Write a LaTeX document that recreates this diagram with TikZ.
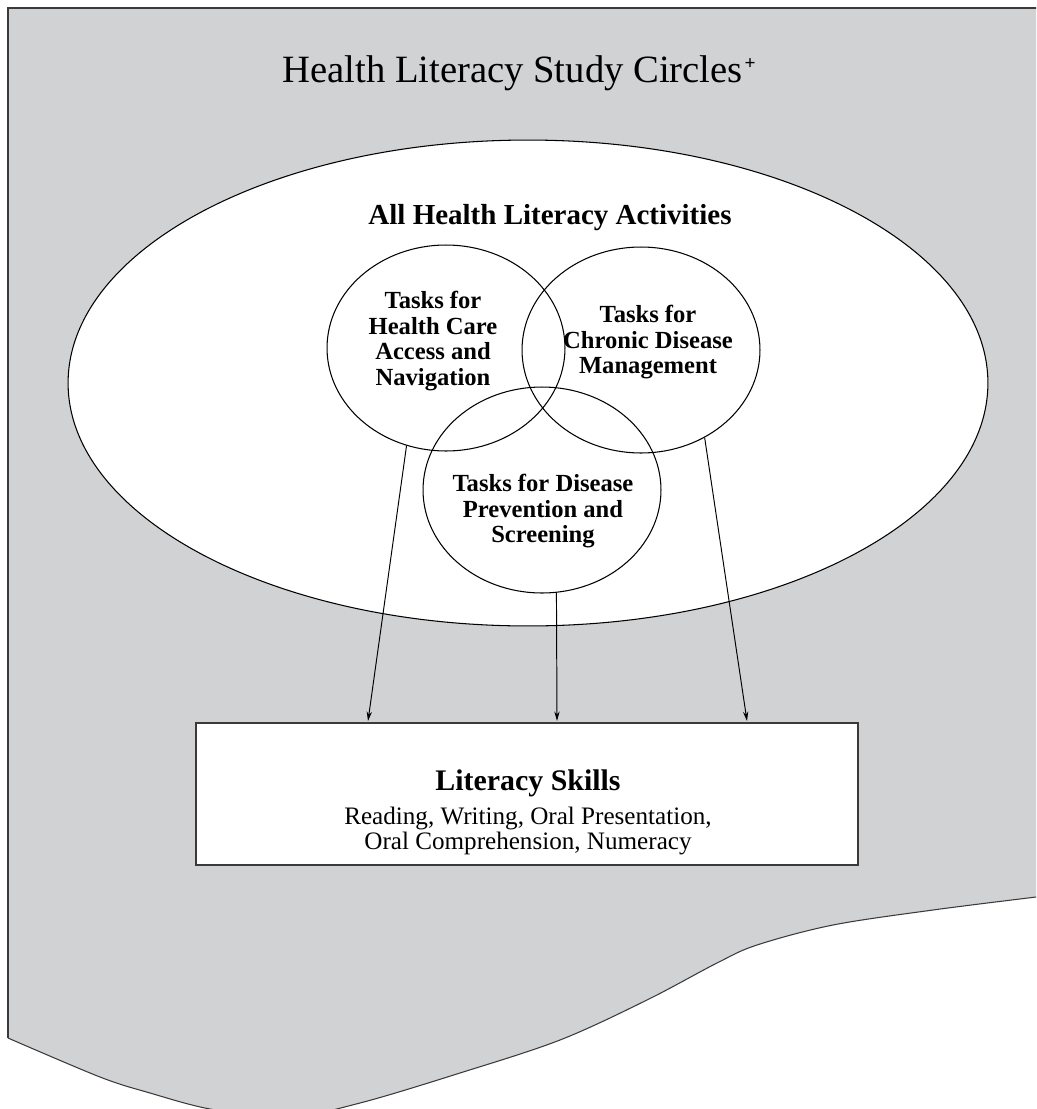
\documentclass[tikz,border=0pt]{standalone}
\usepackage{fontspec}
\setmainfont{Liberation Serif}
\usetikzlibrary{arrows.meta,shapes.geometric}
\definecolor{bggray}{HTML}{D1D2D4}
\definecolor{edge}{HTML}{3A3A3A}
\begin{document}
\begin{tikzpicture}[x=0.02cm,y=-0.02cm,
  vennshape/.style={draw=black,ellipse,line width=0.6pt,inner sep=0pt,minimum width=4.76cm,minimum height=4.12cm},
  venntext/.style={font=\fontsize{14}{14.6}\selectfont\bfseries,align=center,inner sep=0pt,anchor=north},
  arr/.style={line width=0.55pt,-{Stealth[length=5.4pt,width=3pt]}},
  bodytext/.style={font=\fontsize{14.3}{14.6}\selectfont,inner sep=0pt,anchor=base}]
\useasboundingbox (0,0) rectangle (1036,1109);
% background gray region
\begin{scope}
\clip (0,0) rectangle (1036,1109);
\fill[bggray] (8,8) -- (1045,8) -- (1045,896) -- plot[smooth,tension=0.55] coordinates {(1036,897) (933,910) (833,925) (757,945) (717,963) (647,1000) (560,1040) (460,1073) (360,1103) (285,1118) (210,1109) (150,1093) (100,1077) (8,1038)} -- cycle;
\draw[edge,line width=0.75pt] (1045,8) -- (8,8) -- (8,1038);
\draw[edge,line width=0.6pt] plot[smooth,tension=0.55] coordinates {(1045,896) (1036,897) (933,910) (833,925) (757,945) (717,963) (647,1000) (560,1040) (460,1073) (360,1103) (285,1118) (210,1109) (150,1093) (100,1077) (8,1038)};
\end{scope}
% title
\node[font=\fontsize{22}{26}\selectfont,inner sep=0pt,anchor=base] (title) at (519,82) {Health Literacy Study Circles\kern0.05em\raisebox{0.32em}{\fontsize{11}{12}\selectfont\bfseries +}};
% big ellipse
\node[draw=black,fill=white,ellipse,line width=0.6pt,inner sep=0pt,minimum width=18.4cm,minimum height=9.72cm] (all) at (528,383) {};
\node[font=\fontsize{16.5}{19}\selectfont\bfseries,inner sep=0pt,anchor=base] (alltext) at (550,224) {All Health Literacy Activities};
% venn ellipses
\node[vennshape] (access) at (446,348) {};
\node[vennshape] (chronic) at (641,350) {};
\node[vennshape] (prevent) at (542,490) {};
\node[venntext] (accesstext) at (433,291) {Tasks for\\Health Care\\Access and\\Navigation};
\node[venntext] (chronictext) at (648,305) {Tasks for\\Chronic Disease\\Management};
\node[venntext] (preventtext) at (543,474) {Tasks for Disease\\Prevention and\\Screening};
% skills box
\node[draw=edge,fill=white,line width=0.75pt,rectangle,inner sep=0pt,minimum width=13.24cm,minimum height=2.84cm] (skills) at (527,794) {};
\node[font=\fontsize{17}{20}\selectfont\bfseries,inner sep=0pt,anchor=base] (skillstitle) at (528,790) {Literacy Skills};
\node[bodytext] (line1) at (528,824) {Reading, Writing, Oral Presentation,};
\node[bodytext] (line2) at (528,849) {Oral Comprehension, Numeracy};
% arrows
\coordinate (t1) at (368,721);
\coordinate (t2) at (557,721);
\coordinate (t3) at (747,721);
\draw[arr] (access.248) -- (t1);
\draw[arr] (prevent.278.5) -- (t2);
\draw[arr] (chronic.306.7) -- (t3);
\end{tikzpicture}
\end{document}
